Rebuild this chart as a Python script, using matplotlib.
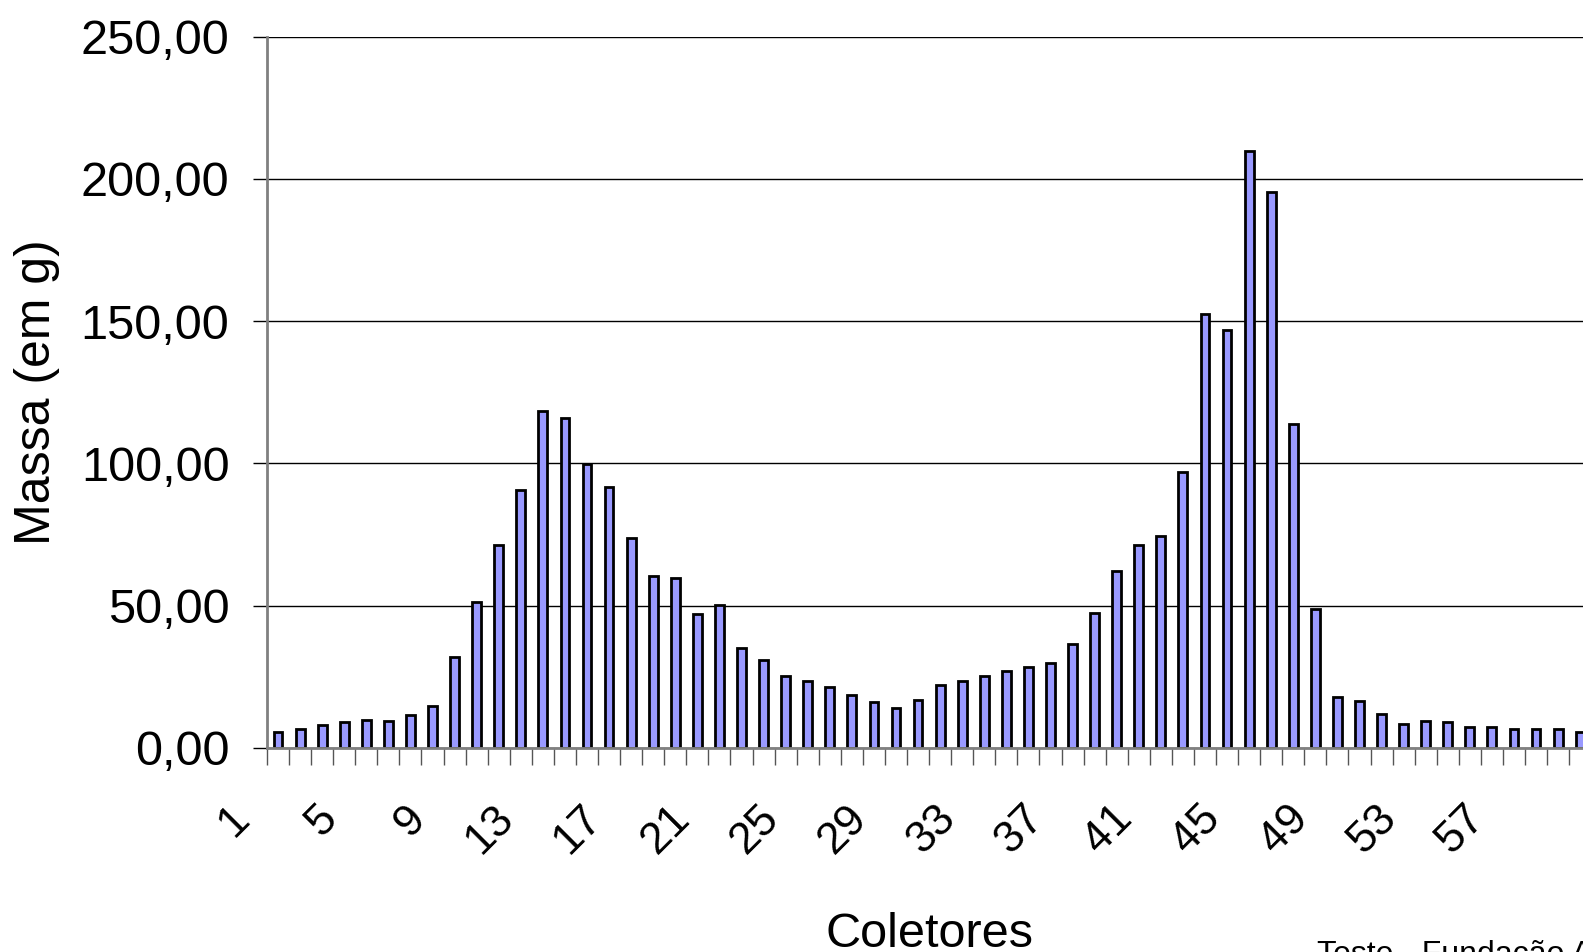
import numpy as np
import matplotlib
matplotlib.use('Agg')
import matplotlib.pyplot as plt
import matplotlib.transforms as mtransforms
from matplotlib.ticker import FixedLocator, FuncFormatter

plt.rcParams['font.family'] = ['Liberation Sans', 'DejaVu Sans']

# massa por coletor (g)
coletores = np.arange(1, 61)
massa = [5.4, 6.7, 8.0, 9.2, 9.8, 9.4, 11.6, 14.5, 32.0, 51.4,
         71.2, 90.5, 118.3, 116.0, 99.9, 91.8, 73.9, 60.4, 59.7, 47.0,
         50.1, 35.1, 30.9, 25.2, 23.5, 21.2, 18.7, 16.2, 14.0, 16.9,
         21.9, 23.6, 25.2, 26.8, 28.4, 29.9, 36.6, 47.2, 62.0, 71.1,
         74.5, 97.1, 152.5, 147.0, 209.9, 195.4, 113.8, 48.6, 18.0, 16.3,
         12.0, 8.2, 9.3, 9.0, 7.3, 7.2, 6.6, 6.6, 6.5, 5.5]
rotulos_x = list(range(1, 61, 4))
yticks = [0, 50, 100, 150, 200, 250]

W, H = 1583, 952
fig = plt.figure(figsize=(W / 100, H / 100), dpi=100)
# plot area is wider than the picture, right edge is cut off
left, top, bottom = 267, 36.7, 747.7
cat_w = 22.07
ax = fig.add_axes([left / W, 1 - bottom / H, len(coletores) * cat_w / W, (bottom - top) / H])

ax.bar(coletores, massa, width=0.4, color='#9999FF', edgecolor='black', linewidth=2, zorder=3)

ax.set_xlim(0.5, len(coletores) + 0.5)
ax.set_ylim(0, 250)

ax.set_yticks(yticks)
ax.yaxis.set_major_formatter(FuncFormatter(lambda v, p: '{:.2f}'.format(v).replace('.', ',')))
ax.yaxis.grid(True, color='black', linewidth=1.0, zorder=1)
ax.tick_params(axis='y', direction='out', length=10, width=1, pad=17, labelsize=35, color='black')

ax.xaxis.set_major_locator(FixedLocator(rotulos_x))
ax.xaxis.set_minor_locator(FixedLocator(np.arange(0.5, len(coletores) + 1, 1)))
ax.tick_params(axis='x', which='major', length=0, pad=36, labelsize=32)
ax.tick_params(axis='x', which='minor', length=12, width=1, color='#555555')
offset = mtransforms.ScaledTranslation(-21 / 100, 0, fig.dpi_scale_trans)
for lab in ax.get_xticklabels():
    lab.set_rotation(45)
    lab.set_ha('right')
    lab.set_va('top')
    lab.set_transform(lab.get_transform() + offset)

for s in ['top', 'right']:
    ax.spines[s].set_visible(False)
ax.spines['left'].set_color('#808080')
ax.spines['left'].set_linewidth(2)
ax.spines['bottom'].set_color('#808080')
ax.spines['bottom'].set_linewidth(2)
ax.spines['bottom'].set_zorder(4)

ax.set_ylabel('Massa (em g)', fontsize=36, va='center')
ax.yaxis.set_label_coords(-0.174, 0.5)
ax.set_xlabel('Coletores', fontsize=35, va='center')
ax.xaxis.set_label_coords(0.5, -0.263)

fig.text(1317 / W, 1 - 940 / H, 'Teste - Fundação A', fontsize=23, ha='left', va='top')

fig.savefig('out.png', dpi=100)
